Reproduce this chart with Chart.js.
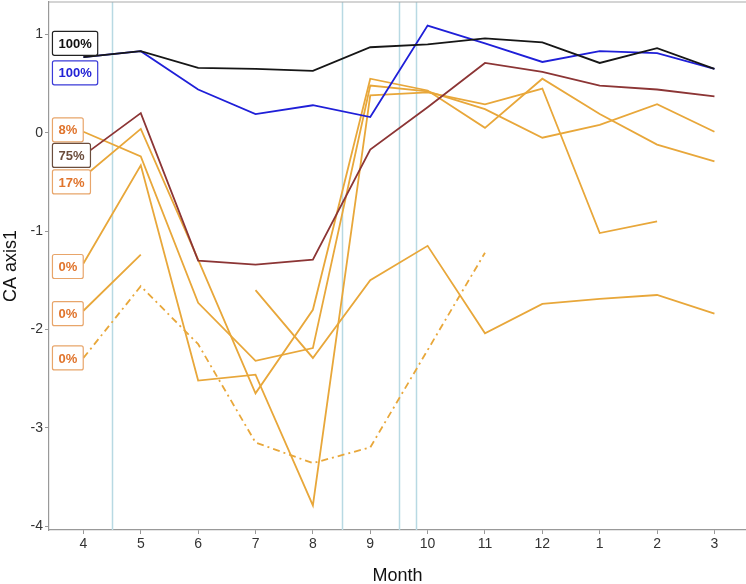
<!DOCTYPE html>
<html>
<head>
<meta charset="utf-8">
<title>CA axis1 by month</title>
<script src="https://cdn.jsdelivr.net/npm/chart.js@4.4.1/dist/chart.umd.min.js"></script>
<style>
  html, body { margin: 0; padding: 0; background: #fff; overflow: hidden; }
  #chart { display: block; }
</style>
</head>
<body>
<canvas id="chart" width="746" height="584"></canvas>
<script>
// Month order on the x axis (one step per month, April to March).
const months = ["4", "5", "6", "7", "8", "9", "10", "11", "12", "1", "2", "3"];
const yTicks = [-4, -3, -2, -1, 0, 1];

const black100 = [0.77, 0.83, 0.66, 0.65, 0.63, 0.87, 0.90, 0.96, 0.92, 0.71, 0.86, 0.65];
const blue100 = [0.77, 0.83, 0.44, 0.19, 0.28, 0.16, 1.09, 0.91, 0.72, 0.83, 0.81, 0.65];
const brown75 = [-0.23, 0.20, -1.30, -1.34, -1.29, -0.17, 0.26, 0.71, 0.62, 0.48, 0.44, 0.37];
const orange8 = [0.01, -0.24, -1.73, -2.32, -2.19, 0.48, 0.42, 0.24, -0.05, 0.08, 0.29, 0.01];
const orange17 = [-0.45, 0.04, -1.29, -2.65, -1.80, 0.55, 0.43, 0.05, 0.55, 0.19, -0.12, -0.29];
const orange0a = [-1.33, -0.33, -2.52, -2.46, -3.79, 0.38, 0.41, 0.29, 0.45, -1.02, -0.90, null];
const orange0b = [-1.81, -1.24, null, -1.60, -2.29, -1.50, -1.15, -2.04, -1.74, -1.69, -1.65, -1.84];
const orange0c = [-2.29, -1.56, -2.15, -3.15, -3.36, -3.20, -2.21, -1.22, null, null, null, null];

// Vertical reference lines, in month-step units (0 = month 4).
const breaks = [0.5, 4.5, 5.5, 5.8];

// Percentage tags at the left of the panel and the y they sit at.
const tagTexts = ["100%", "100%", "8%", "75%", "17%", "0%", "0%", "0%"];
const tagY = [0.91, 0.61, 0.03, -0.23, -0.50, -1.36, -1.84, -2.29];

const ORANGE = "#e8a73a";
const tagStyles = [
  { text: "#111111", border: "#222222" },
  { text: "#2323d6", border: "#3a3ad8" },
  { text: "#e0742c", border: "#e8a56a" },
  { text: "#6b4d3c", border: "#6b4d3c" },
  { text: "#e0742c", border: "#e8a56a" },
  { text: "#e0742c", border: "#e8a56a" },
  { text: "#e0742c", border: "#e8a56a" },
  { text: "#e0742c", border: "#e8a56a" },
];

const FONT = '"Liberation Sans", Arial, Helvetica, sans-serif';

function toPoints(values) {
  return values.map((y, i) => ({ x: i, y }));
}

function series(values, color, dash) {
  return {
    data: toPoints(values),
    borderColor: color,
    borderWidth: 1.8,
    borderDash: dash || [],
    pointRadius: 0,
    pointHoverRadius: 0,
    fill: false,
    tension: 0,
    spanGaps: false,
  };
}

const refLines = {
  id: "refLines",
  beforeDatasetsDraw(chart) {
    const { ctx, chartArea, scales } = chart;
    ctx.save();
    ctx.strokeStyle = "#b8d9e3";
    ctx.lineWidth = 1.5;
    breaks.forEach((v) => {
      const px = Math.round(scales.x.getPixelForValue(v)) + 0.5;
      ctx.beginPath();
      ctx.moveTo(px, chartArea.top);
      ctx.lineTo(px, chartArea.bottom);
      ctx.stroke();
    });
    ctx.restore();
  },
};

const frameTop = {
  id: "frameTop",
  afterDraw(chart) {
    const { ctx, chartArea } = chart;
    ctx.save();
    ctx.strokeStyle = "#aaaaaa";
    ctx.lineWidth = 1.2;
    ctx.beginPath();
    ctx.moveTo(chartArea.left, chartArea.top);
    ctx.lineTo(chartArea.right, chartArea.top);
    ctx.stroke();
    ctx.restore();
  },
};

const percentTags = {
  id: "percentTags",
  afterDatasetsDraw(chart) {
    const { ctx, scales } = chart;
    const left = scales.x.getPixelForValue(-0.54);
    ctx.save();
    ctx.font = "bold 13px " + FONT;
    ctx.textBaseline = "middle";
    tagTexts.forEach((text, i) => {
      const cy = scales.y.getPixelForValue(tagY[i]);
      const w = ctx.measureText(text).width + 12;
      const h = 24;
      ctx.beginPath();
      ctx.roundRect(left, cy - h / 2, w, h, 2);
      ctx.fillStyle = "#ffffff";
      ctx.fill();
      ctx.lineWidth = 1.2;
      ctx.strokeStyle = tagStyles[i].border;
      ctx.stroke();
      ctx.fillStyle = tagStyles[i].text;
      ctx.fillText(text, left + 6, cy + 1);
    });
    ctx.restore();
  },
};

new Chart(document.getElementById("chart"), {
  type: "line",
  data: {
    datasets: [
      series(black100, "#161616"),
      series(blue100, "#1f1fd8"),
      series(brown75, "#8c3535"),
      series(orange8, ORANGE),
      series(orange17, ORANGE),
      series(orange0a, ORANGE),
      series(orange0b, ORANGE),
      series(orange0c, ORANGE, [7, 4, 2, 4]),
    ],
  },
  plugins: [refLines, frameTop, percentTags],
  options: {
    responsive: false,
    animation: false,
    events: [],
    layout: { autoPadding: false, padding: { top: 2, right: 0, bottom: 0, left: 0 } },
    plugins: { legend: { display: false }, tooltip: { enabled: false } },
    scales: {
      x: {
        type: "linear",
        min: -0.6,
        max: 11.55,
        afterBuildTicks(scale) {
          scale.ticks = months.map((_, i) => ({ value: i }));
        },
        afterFit(scale) {
          scale.height = 54;
          scale.paddingLeft = 0;
          scale.paddingRight = 0;
        },
        ticks: {
          color: "#333333",
          font: { family: FONT, size: 14 },
          padding: 2,
          maxRotation: 0,
          callback: (v) => months[v],
        },
        grid: { drawOnChartArea: false, drawTicks: true, tickLength: 4, color: "#999999" },
        border: { color: "#999999", width: 1.2 },
        title: {
          display: true,
          text: "Month",
          color: "#111111",
          font: { family: FONT, size: 18 },
          padding: { top: 0, bottom: -3 },
        },
      },
      y: {
        type: "linear",
        min: -4.04,
        max: 1.33,
        afterBuildTicks(scale) {
          scale.ticks = yTicks.map((v) => ({ value: v }));
        },
        afterFit(scale) {
          scale.width = 49;
          scale.paddingTop = 0;
          scale.paddingBottom = 0;
        },
        ticks: {
          color: "#333333",
          font: { family: FONT, size: 14 },
          padding: 2,
        },
        grid: { drawOnChartArea: false, drawTicks: true, tickLength: 4, color: "#999999" },
        border: { color: "#999999", width: 1.2 },
        title: {
          display: true,
          text: "CA axis1",
          color: "#111111",
          font: { family: FONT, size: 18 },
          padding: { top: 0, bottom: 0 },
        },
      },
    },
  },
});
</script>
</body>
</html>
